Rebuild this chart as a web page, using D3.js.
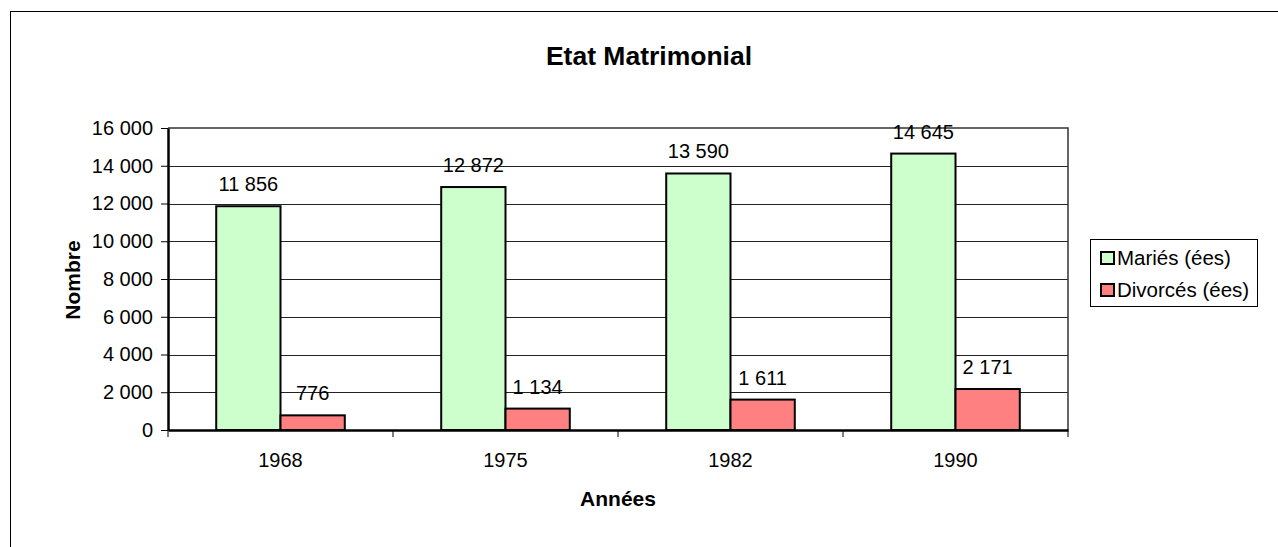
<!DOCTYPE html>
<html>
<head>
<meta charset="utf-8">
<script src="https://cdn.jsdelivr.net/npm/d3@7"></script>
<style>
body{margin:0;background:#fff;}
text{font-family:"Liberation Sans",Arial,sans-serif;}
</style>
</head>
<body>
<svg width="1278" height="547"></svg>
<script>
// donnees
var annees = ['1968', '1975', '1982', '1990'];
var series = ['Mariés (ées)', 'Divorcés (ées)'];
var maries = [11856, 12872, 13590, 14645];
var divorces = [776, 1134, 1611, 2171];
var yTicks = [0, 2000, 4000, 6000, 8000, 10000, 12000, 14000, 16000];
var couleurs = ['#CCFFCC', '#FF8080'];

var svg = d3.select('svg');
var L = 168, R = 1068, T = 128, B = 430;
var police = '"Liberation Sans",Arial,sans-serif';

// cadre exterieur
svg.append('rect').attr('x', 10.5).attr('y', 11.5).attr('width', 1300).attr('height', 600)
  .attr('fill', 'white').attr('stroke', 'black').attr('stroke-width', 1);

var x = d3.scaleBand().domain(annees).range([L, R]);
var y = d3.scaleLinear().domain([0, 16000]).range([B, T]);
var fmt = function(v){ return d3.format(',')(v).replace(/,/g, ' '); };

// grille
svg.append('g').selectAll('line').data(yTicks.slice(1, -1)).join('line')
  .attr('x1', L).attr('x2', R).attr('y1', function(d){ return Math.round(y(d)) + 0.5; })
  .attr('y2', function(d){ return Math.round(y(d)) + 0.5; })
  .attr('stroke', '#222').attr('stroke-width', 1);

// bord zone de trace
svg.append('path').attr('d', 'M' + L + ',' + T + 'H' + R + 'V' + B)
  .attr('fill', 'none').attr('stroke', '#333').attr('stroke-width', 1.5);

// barres
var bw = x.bandwidth() / 3.5;
var g = svg.append('g');
annees.forEach(function(a, i){
  [maries[i], divorces[i]].forEach(function(v, k){
    var bx = x(a) + bw * 0.75 + k * bw;
    g.append('rect').attr('x', bx).attr('y', y(v)).attr('width', bw).attr('height', y(0) - y(v))
      .attr('fill', couleurs[k]).attr('stroke', 'black').attr('stroke-width', 2);
    g.append('text').attr('x', bx + bw / 2).attr('y', y(v) - 15).attr('text-anchor', 'middle')
      .attr('font-size', 20).text(fmt(v));
  });
});

// axe y
var ya = svg.append('g').attr('transform', 'translate(' + L + ',0)')
  .call(d3.axisLeft(y).tickValues(yTicks).tickFormat(fmt).tickSize(7).tickSizeOuter(0));
ya.select('.domain').attr('stroke', 'black').attr('stroke-width', 2.5);
ya.selectAll('text').attr('font-size', 20).attr('font-family', police).attr('fill', 'black').attr('x', -15);

// axe x
var xa = svg.append('g').attr('transform', 'translate(0,' + B + ')')
  .call(d3.axisBottom(x).tickSize(0));
xa.select('.domain').attr('stroke', 'black').attr('stroke-width', 2.5);
xa.selectAll('text').attr('font-size', 20).attr('font-family', police).attr('fill', 'black')
  .attr('y', 37).attr('dy', 0);
svg.append('g').selectAll('line').data(annees.concat(['fin'])).join('line')
  .attr('x1', function(d, i){ return L + i * x.step(); }).attr('x2', function(d, i){ return L + i * x.step(); })
  .attr('y1', B).attr('y2', B + 7).attr('stroke', 'black').attr('stroke-width', 1);

// titres
svg.append('text').attr('x', 649).attr('y', 65).attr('text-anchor', 'middle')
  .attr('font-size', 26.5).attr('font-weight', 'bold').text('Etat Matrimonial');
svg.append('text').attr('x', 618).attr('y', 506).attr('text-anchor', 'middle')
  .attr('font-size', 21).attr('font-weight', 'bold').text('Années');
svg.append('text').attr('transform', 'translate(80,280) rotate(-90)').attr('text-anchor', 'middle')
  .attr('font-size', 21).attr('font-weight', 'bold').text('Nombre');

// legende
var lg = svg.append('g');
lg.append('rect').attr('x', 1090.5).attr('y', 239.5).attr('width', 167).attr('height', 67)
  .attr('fill', 'white').attr('stroke', 'black').attr('stroke-width', 1);
series.forEach(function(s, i){
  var ly = 258 + i * 32;
  lg.append('rect').attr('x', 1101).attr('y', ly - 6).attr('width', 13).attr('height', 12)
    .attr('fill', couleurs[i]).attr('stroke', 'black').attr('stroke-width', 2);
  lg.append('text').attr('x', 1117).attr('y', ly + 7).attr('font-size', 20.5).text(s);
});
</script>
</body>
</html>
